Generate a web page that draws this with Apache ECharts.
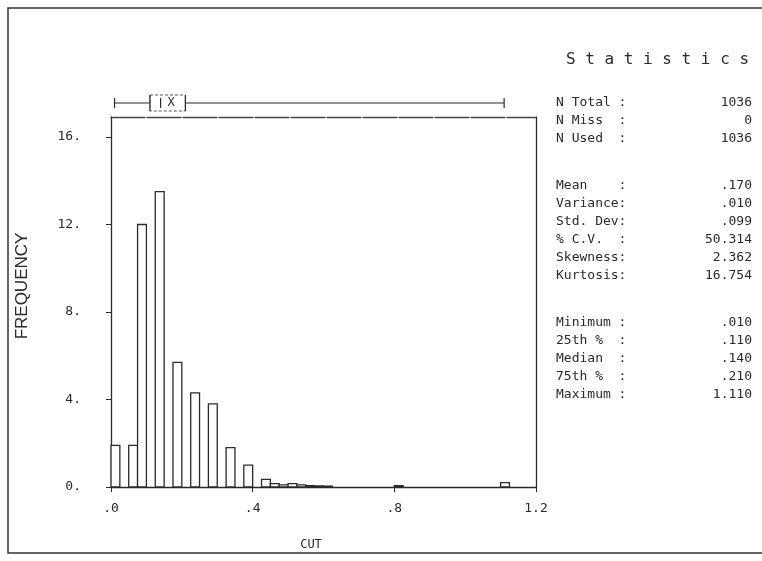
<!DOCTYPE html>
<html><head><meta charset="utf-8">
<script src="https://cdn.jsdelivr.net/npm/echarts@6/dist/echarts.min.js"></script>
<style>html,body{margin:0;padding:0;background:#fff}#c{width:762px;height:561px}</style>
</head><body><div id="c"></div>
<script>
// Histogram bins (bin start on CUT axis, width 0.025) and frequencies
const binWidth = 0.025;
const binStart = [0.0, 0.05, 0.075, 0.125, 0.175, 0.225, 0.275, 0.325, 0.375, 0.425, 0.45, 0.475, 0.5, 0.525, 0.55, 0.575, 0.6, 0.8, 1.1];
const frequency = [1.9, 1.9, 12.0, 13.5, 5.7, 4.3, 3.8, 1.8, 1.0, 0.35, 0.15, 0.1, 0.15, 0.1, 0.06, 0.05, 0.04, 0.06, 0.2];
// Box summary: min, q1, median, mean, q3, max
const boxStats = [0.010, 0.110, 0.140, 0.170, 0.210, 1.110];
// Axis ticks
const yTicks = [0, 4, 8, 12, 16];
const xTicks = [0, 0.4, 0.8, 1.2];
const xTickLabels = ['.0', '.4', '.8', '1.2'];
const yTickLabels = ['0.', '4.', '8.', '12.', '16.'];
const xAxisName = 'CUT';
const yAxisName = 'FREQUENCY';
// Statistics panel
const statTitle = 'S t a t i s t i c s';
const statLabels = ['N Total :', 'N Miss  :', 'N Used  :', '', 'Mean    :', 'Variance:', 'Std. Dev:', '% C.V.  :', 'Skewness:', 'Kurtosis:', '', 'Minimum :', '25th %  :', 'Median  :', '75th %  :', 'Maximum :'];
const statValues = ['1036', '0', '1036', '', '.170', '.010', '.099', '50.314', '2.362', '16.754', '', '.010', '.110', '.140', '.210', '1.110'];

const INK = '#2a2a2a';
const MONO = '"DejaVu Sans Mono", "Liberation Mono", monospace';

const chart = echarts.init(document.getElementById('c'));

const graphics = [
  {type: 'rect', shape: {x: 8, y: 8, width: 770, height: 545}, style: {fill: 'none', stroke: '#333', lineWidth: 1.5}, silent: true},
  {type: 'text', x: 566, y: 60, style: {text: statTitle, font: '16px ' + MONO, fill: INK, verticalAlign: 'middle'}},
  {type: 'text', x: 311, y: 545, style: {text: xAxisName, font: '12px ' + MONO, fill: INK, align: 'center', verticalAlign: 'middle'}},
  {type: 'text', x: 22, y: 286, rotation: Math.PI / 2, style: {text: yAxisName, font: '17px "Liberation Sans", Arial, sans-serif', fill: INK, align: 'center', verticalAlign: 'middle'}}
];
const rowY0 = 103, rowStep = 18, gapStep = 29;
let y = rowY0;
statLabels.forEach((lab, i) => {
  if (lab === '') { y += gapStep; return; }
  graphics.push({type: 'text', x: 556, y: y, style: {text: lab, font: '13px ' + MONO, fill: INK, verticalAlign: 'middle'}});
  graphics.push({type: 'text', x: 752, y: y, style: {text: statValues[i], font: '13px ' + MONO, fill: INK, align: 'right', verticalAlign: 'middle'}});
  y += rowStep;
});

chart.setOption({
  backgroundColor: '#fff',
  animation: false,
  grid: [
    {left: 111, right: 226, top: 117, bottom: 74},
    {left: 111, right: 226, top: 95, height: 16}
  ],
  xAxis: [
    {gridIndex: 0, type: 'value', min: 0, max: 1.2, interval: 0.4,
     axisLine: {onZero: false, lineStyle: {color: INK, width: 1.3}},
     axisTick: {show: true, inside: false, length: 5, lineStyle: {color: INK}},
     axisLabel: {margin: 15, fontFamily: MONO, fontSize: 13, color: INK,
       formatter: v => { const i = xTicks.findIndex(t => Math.abs(t - v) < 1e-9); return i >= 0 ? xTickLabels[i] : ''; }},
     splitLine: {show: false}},
    {gridIndex: 0, type: 'value', min: 0, max: 1.2, position: 'top',
     axisLine: {show: true, onZero: false, lineStyle: {color: '#444', width: 1.3, type: [34, 2]}},
     axisTick: {show: false}, axisLabel: {show: false}, splitLine: {show: false}},
    {gridIndex: 1, type: 'value', min: 0, max: 1.2, show: false}
  ],
  yAxis: [
    {gridIndex: 0, type: 'value', min: 0, max: 16.914, interval: 4,
     axisLine: {show: true, onZero: false, lineStyle: {color: INK, width: 1.3}},
     axisTick: {show: true, length: 5, lineStyle: {color: INK}},
     axisLabel: {margin: 30, fontFamily: MONO, fontSize: 13, color: INK, showMaxLabel: false,
       formatter: v => { const i = yTicks.indexOf(v); return i >= 0 ? yTickLabels[i] : ''; }},
     splitLine: {show: false}},
    {gridIndex: 0, type: 'value', min: 0, max: 16.914, position: 'right',
     axisLine: {show: true, onZero: false, lineStyle: {color: INK, width: 1.3}},
     axisTick: {show: false}, axisLabel: {show: false}, splitLine: {show: false}},
    {gridIndex: 1, type: 'value', min: 0, max: 1, show: false}
  ],
  series: [
    {type: 'custom', xAxisIndex: 0, yAxisIndex: 0,
     data: binStart.map((s, i) => [s, frequency[i]]),
     renderItem: (params, api) => {
       const s = api.value(0), f = api.value(1);
       const p0 = api.coord([s, 0]), p1 = api.coord([s + binWidth, f]);
       return {type: 'rect', shape: {x: p0[0], y: p1[1], width: p1[0] - p0[0], height: p0[1] - p1[1]},
               style: {fill: '#fff', stroke: INK, lineWidth: 1.3}};
     }},
    {type: 'custom', xAxisIndex: 2, yAxisIndex: 2,
     data: [boxStats],
     renderItem: (params, api) => {
       const mn = api.coord([api.value(0), 0.5]), q1 = api.coord([api.value(1), 0.5]),
             md = api.coord([api.value(2), 0.5]), mu = api.coord([api.value(3), 0.5]),
             q3 = api.coord([api.value(4), 0.5]), mx = api.coord([api.value(5), 0.5]);
       const cy = mn[1], h = 8;
       const ls = {stroke: INK, lineWidth: 1.2};
       return {type: 'group', children: [
         {type: 'line', shape: {x1: mn[0], y1: cy, x2: q1[0], y2: cy}, style: ls},
         {type: 'line', shape: {x1: q3[0], y1: cy, x2: mx[0], y2: cy}, style: ls},
         {type: 'line', shape: {x1: mn[0], y1: cy - 5, x2: mn[0], y2: cy + 5}, style: ls},
         {type: 'line', shape: {x1: mx[0], y1: cy - 5, x2: mx[0], y2: cy + 5}, style: ls},
         {type: 'rect', shape: {x: q1[0], y: cy - h, width: q3[0] - q1[0], height: 2 * h}, style: {fill: 'none', stroke: '#555', lineWidth: 1, lineDash: [3, 2]}},
         {type: 'line', shape: {x1: q1[0], y1: cy - h, x2: q1[0], y2: cy + h}, style: ls},
         {type: 'line', shape: {x1: q3[0], y1: cy - h, x2: q3[0], y2: cy + h}, style: ls},
         {type: 'line', shape: {x1: md[0], y1: cy - 5, x2: md[0], y2: cy + 5}, style: ls},
         {type: 'text', x: mu[0], y: cy, style: {text: 'X', font: '12px ' + MONO, fill: INK, align: 'center', verticalAlign: 'middle'}}
       ]};
     }}
  ],
  graphic: graphics
});
</script></body></html>
